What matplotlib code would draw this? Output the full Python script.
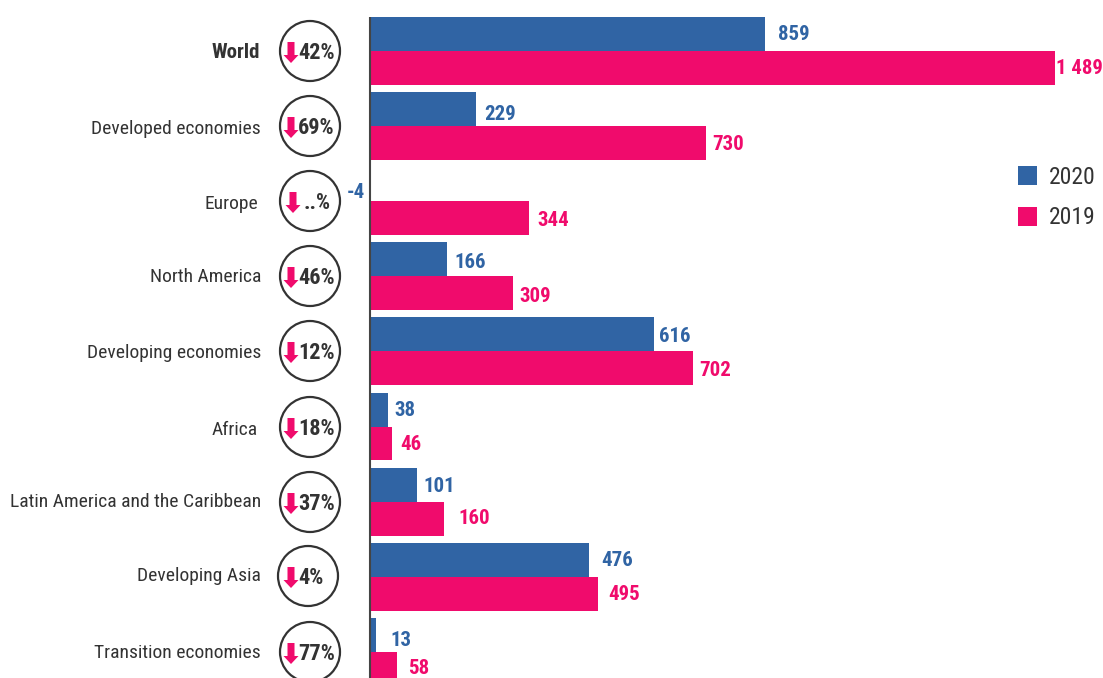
import matplotlib
matplotlib.use("Agg")
import matplotlib.pyplot as plt
from matplotlib.patches import Circle, Polygon, Rectangle
import numpy as np

plt.rcParams['font.family'] = ['Roboto Condensed', 'Archivo Narrow', 'Liberation Sans', 'DejaVu Sans']

categories = ["World", "Developed economies", "Europe", "North America", "Developing economies",
              "Africa", "Latin America and the Caribbean", "Developing Asia", "Transition economies"]
values_2020 = [859, 229, -4, 166, 616, 38, 101, 476, 13]
values_2019 = [1489, 730, 344, 309, 702, 46, 160, 495, 58]
labels_2020 = ["859", "229", "-4", "166", "616", "38", "101", "476", "13"]
labels_2019 = ["1 489", "730", "344", "309", "702", "46", "160", "495", "58"]
changes = ["42%", "69%", "..%", "46%", "12%", "18%", "37%", "4%", "77%"]

BLUE = "#3064A4"
PINK = "#F00B6C"
DARK = "#333333"
W, H = 1103, 678

# hand placed layout, in pixels of the reference
cat_x = [260, 261, 258, 261, 261, 258, 261, 261, 261]
cat_y = [52, 129, 204, 277, 353, 430, 502, 576, 653]
circle_x = [310, 310, 310, 310, 310, 310, 310, 308, 310]
circle_y = [51, 126, 201, 276, 351, 427, 502, 576, 652]
arrow_x = [291, 291, 293, 291, 291, 291, 291, 291, 291]
pct_x = [298, 298, 304, 298, 298, 298, 298, 298, 298]
lab20_x = [778, 484, 347, 454, 659, 394, 423, 601, 390]
lab20_y = [34, 114, 192, 262, 336, 411, 486, 560, 640]
lab19_x = [1056, 712, 537, 519, 699, 400, 458, 608, 408]
lab19_y = [69, 144, 221, 296, 370, 445, 519, 594, 669]

fig = plt.figure(figsize=(W / 100, H / 100), dpi=100)

# bars: one category step is 75.1 px, one value unit 0.46 px
ax = fig.add_axes([370.5 / W, 0, 1 - 370.5 / W, 1])
ax.set_xlim(0, (W - 370.5) / 0.4597)
ax.set_ylim((H - 51) / 75.1, -51 / 75.1)
ax.axis("off")
rows = np.arange(len(categories))
ax.barh(rows - 0.226, values_2020, height=0.452, color=BLUE)
ax.barh(rows + 0.226, values_2019, height=0.452, color=PINK)

# everything else sits in a pixel overlay
ov = fig.add_axes([0, 0, 1, 1], facecolor="none")
ov.set_xlim(0, W)
ov.set_ylim(H, 0)
ov.axis("off")
ov.plot([370, 370], [17, H], color="#444444", lw=1.5, solid_capstyle="butt")

for i, name in enumerate(categories):
    ov.text(cat_x[i], cat_y[i], name, ha="right", va="center", color=DARK,
            fontsize=15 if i == 0 else 14, fontweight="bold" if i == 0 else "normal")
    ov.add_patch(Circle((circle_x[i], circle_y[i]), 30, fc="white", ec=DARK, lw=1.6))
    ax_, ay = arrow_x[i], circle_y[i] + 1
    ov.add_patch(Polygon([(ax_ - 3.5, ay - 10), (ax_ + 3.5, ay - 10), (ax_ + 3.5, ay + 3),
                          (ax_ + 7.5, ay + 3), (ax_, ay + 11), (ax_ - 7.5, ay + 3), (ax_ - 3.5, ay + 3)],
                         fc=PINK, ec="none"))
    ov.text(pct_x[i], circle_y[i] + 2, changes[i], ha="left", va="center", color=DARK,
            fontsize=16, fontweight="bold")
    ov.text(lab20_x[i], lab20_y[i], labels_2020[i], ha="left", va="center", color=BLUE,
            fontsize=15, fontweight="bold")
    ov.text(lab19_x[i], lab19_y[i], labels_2019[i], ha="left", va="center", color=PINK,
            fontsize=15, fontweight="bold")

# legend
ov.add_patch(Rectangle((1018, 166), 19, 19, fc=BLUE, ec="none"))
ov.add_patch(Rectangle((1018, 207), 19, 19, fc=PINK, ec="none"))
ov.text(1049, 178, "2020", ha="left", va="center", color=DARK, fontsize=17)
ov.text(1049, 218, "2019", ha="left", va="center", color=DARK, fontsize=17)

fig.savefig("out.png", dpi=100)
